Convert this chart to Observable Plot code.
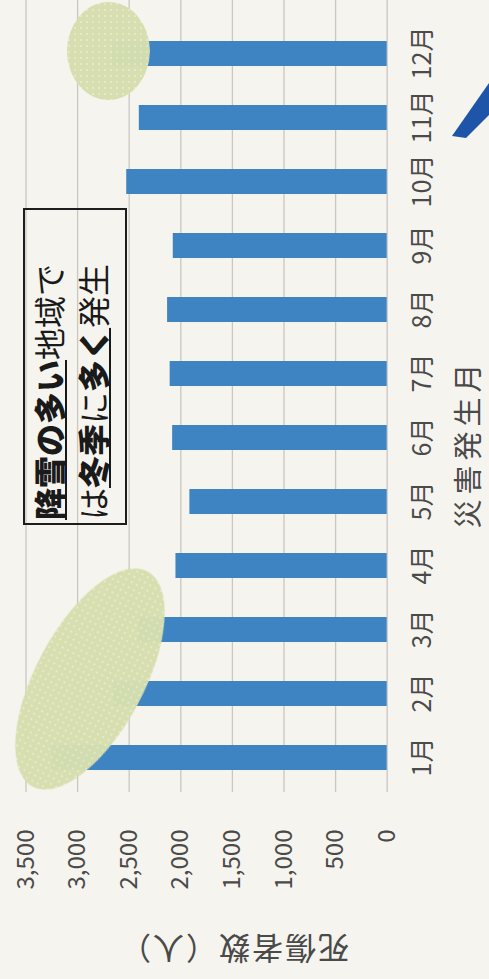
<!DOCTYPE html>
<html>
<head>
<meta charset="utf-8">
<script src="https://cdn.jsdelivr.net/npm/d3@7"></script>
<script src="https://cdn.jsdelivr.net/npm/@observablehq/plot@0.6"></script>
<style>
  html, body { margin: 0; padding: 0; background: #f6f4ee; overflow: hidden; }
  #stage { position: absolute; left: 0; top: 0; width: 979px; height: 489px;
           transform-origin: 0 0; transform: translate(0, 979px) rotate(-90deg); }
  #note { position: absolute; left: 454px; top: 23px; width: 317px; height: 104px;
          box-sizing: border-box; border: 2px solid #1d1d1d; padding: 1px 0 0 3px;
          font-family: "Noto Sans CJK JP", sans-serif; font-size: 32px; line-height: 44px;
          color: #1a1a1a; white-space: nowrap; }
  #note b { font-weight: 900; }
  #note .u { text-decoration: underline; text-decoration-thickness: 2px; text-underline-offset: 3px; }
</style>
</head>
<body>
<div id="stage"></div>
<script>
const months = ["1月","2月","3月","4月","5月","6月","7月","8月","9月","10月","11月","12月"];
const casualties = [3250, 2650, 2405, 2047, 1912, 2079, 2103, 2128, 2073, 2524, 2402, 2660];
const valueTicks = [0, 500, 1000, 1500, 2000, 2500, 3000, 3500];
const xTitle = "災害発生月";
const yTitle = "死傷者数（人）";

const data = months.map((m, i) => ({month: m, value: casualties[i]}));

const W = 979, H = 489, ML = 187, MT = 25.5, MB = 102.3;

const chart = Plot.plot({
  width: W, height: H,
  marginLeft: ML, marginRight: 0, marginTop: MT, marginBottom: MB,
  style: {background: "transparent", fontFamily: "'Noto Sans CJK JP', sans-serif", overflow: "visible"},
  x: {domain: months, range: [ML, 959.5], paddingInner: 0.61, paddingOuter: 0.305, label: null},
  y: {domain: [0, 3500], label: null},
  marks: [
    Plot.ruleY(valueTicks, {stroke: "#c9c7c0", strokeWidth: 1.3}),
    Plot.barY(data, {x: "month", y: "value", fill: "#3f84c2"}),
    Plot.axisY(valueTicks, {tickSize: 0, tickPadding: 38, tickFormat: d3.format(","), fontSize: 24, fill: "#4a4a4a", label: null}),
    Plot.axisX({tickSize: 0, tickPadding: 26, fontSize: 25, fill: "#4a4a4a", label: null}),
    Plot.text([xTitle], {frameAnchor: "bottom-left", dx: 535 - ML, dy: 469 - (H - MB),
      text: d => d, fontSize: 29, fill: "#4a4a4a", textAnchor: "middle", lineAnchor: "middle"}),
    Plot.text([yTitle], {frameAnchor: "top-left", dx: 32 - ML, dy: 233 - MT, rotate: -90,
      text: d => d, fontSize: 31, fill: "#4a4a4a", textAnchor: "middle", lineAnchor: "middle"})
  ]
});

const svg = d3.select(chart);
svg.selectAll("text").filter(function() { return this.textContent === xTitle; })
  .style("letter-spacing", "5px");
svg.selectAll("text").filter(function() { return this.textContent === yTitle; })
  .style("letter-spacing", "2px");

// halftone pattern for the highlight ellipses
const defs = svg.append("defs");
const pat = defs.append("pattern").attr("id", "dots").attr("patternUnits", "userSpaceOnUse")
  .attr("width", 6).attr("height", 6);
pat.append("rect").attr("width", 6).attr("height", 6).attr("fill", "#d6deae");
pat.append("circle").attr("cx", 3).attr("cy", 3).attr("r", 1.1).attr("fill", "#e9eccd");

const hl = svg.append("g").attr("opacity", 0.97);
hl.append("ellipse").attr("cx", 300).attr("cy", 90).attr("rx", 122).attr("ry", 54)
  .attr("transform", "rotate(28.1,300,90)").attr("fill", "url(#dots)");
hl.append("ellipse").attr("cx", 928).attr("cy", 108.5).attr("rx", 49).attr("ry", 41.5)
  .attr("fill", "url(#dots)");

// arrow tip (blue marker stroke)
svg.append("path").attr("d", "M843,452 L896,489 L864,489 L841,466 Z").attr("fill", "#1f55a8");

const stage = document.getElementById("stage");
stage.appendChild(chart);

const note = document.createElement("div");
note.id = "note";
note.innerHTML = '<div><b class="u">降雪の多い</b>地域で</div>' +
  '<div>は<span class="u"><b>冬季</b>に<b>多く</b></span>発生</div>';
stage.appendChild(note);
</script>
</body>
</html>
